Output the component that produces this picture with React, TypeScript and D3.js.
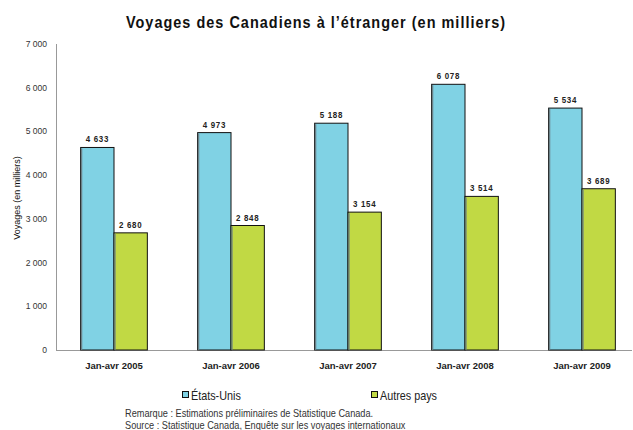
import React from "react";
import * as d3 from "d3";

const categories = ["Jan-avr 2005", "Jan-avr 2006", "Jan-avr 2007", "Jan-avr 2008", "Jan-avr 2009"];
const seriesNames = ["États-Unis", "Autres pays"];
const usValues = [4633, 4973, 5188, 6078, 5534];
const otherValues = [2680, 2848, 3154, 3514, 3689];
const yTicks = [0, 1000, 2000, 3000, 4000, 5000, 6000, 7000];
const colors = ["#80d2e4", "#c1d944"];
const notes = [
  "Remarque : Estimations préliminaires de Statistique Canada.",
  "Source : Statistique Canada, Enquête sur les voyages internationaux",
];

const W = 633;
const H = 430;
const FONT = "'Liberation Sans', Arial, sans-serif";

const fmt = (v: number) => d3.format(",")(v).replace(/,/g, " ");

export default function App() {
  const x = d3.scaleBand<string>().domain(categories).range([55.5, 640.5]).paddingInner(0.43).paddingOuter(0.215);
  const x1 = d3.scaleBand<string>().domain(seriesNames).range([0, x.bandwidth()]);
  const y = d3.scaleLinear().domain([0, 7000]).range([350, 44]);
  const series = [usValues, otherValues];

  return (
    <div style={{ position: "absolute", left: 0, top: 0 }}>
      <svg width={W} height={H} style={{ display: "block", background: "#fff" }}>
        <text transform="translate(316,28) scale(0.85,1)" textAnchor="middle" fontFamily={FONT} fontWeight="bold" fontSize={17} letterSpacing={1.2} fill="#111">
          Voyages des Canadiens à l’étranger (en milliers)
        </text>
        <line x1={56.5} x2={56.5} y1={44} y2={350} stroke="#999" strokeWidth={1} />
        <line x1={56} x2={632} y1={350.5} y2={350.5} stroke="#999" strokeWidth={1} />
        {yTicks.map((t) => (
          <text key={t} transform={`translate(47,${y(t) + 3}) scale(0.9,1)`} textAnchor="end" fontFamily={FONT} fontSize={9.5} fill="#333">
            {fmt(t)}
          </text>
        ))}
        <text transform="translate(20,198) rotate(-90)" textAnchor="middle" fontFamily={FONT} fontSize={9} fill="#111">
          Voyages (en milliers)
        </text>
        {categories.map((c, i) => (
          <g key={c}>
            {series.map((vals, s) => {
              const bx = (x(c) as number) + (x1(seriesNames[s]) as number);
              const bw = x1.bandwidth();
              return (
                <g key={s}>
                  <rect x={bx} y={y(vals[i])} width={bw} height={350 - y(vals[i])} fill={colors[s]} stroke="#111" strokeWidth={1} />
                  <line x1={bx + 1} x2={bx + 1} y1={y(vals[i]) + 1} y2={350} stroke="#6a7f86" strokeWidth={1.2} />
                  <text transform={`translate(${bx + bw / 2},${y(vals[i]) - 5}) scale(0.88,1)`} textAnchor="middle" fontFamily={FONT} fontWeight="bold" fontSize={9} letterSpacing={0.8} fill="#222">
                    {fmt(vals[i])}
                  </text>
                </g>
              );
            })}
            <text x={(x(c) as number) + x.bandwidth() / 2} y={369} textAnchor="middle" fontFamily={FONT} fontWeight="bold" fontSize={9.5} fill="#222">
              {c}
            </text>
          </g>
        ))}
        {seriesNames.map((n, s) => {
          const lx = s === 0 ? 182 : 371;
          return (
            <g key={n}>
              <rect x={lx + 0.5} y={391.5} width={6} height={6} fill={colors[s]} stroke="#111" strokeWidth={1} />
              <text transform={`translate(${lx + 9},${400}) scale(0.9,1)`} fontFamily={FONT} fontSize={12} fill="#222">{n}</text>
            </g>
          );
        })}
        {notes.map((t, i) => (
          <text key={i} transform={`translate(125,${417 + i * 12}) scale(0.92,1)`} fontFamily={FONT} fontSize={10} fill="#333">{t}</text>
        ))}
      </svg>
    </div>
  );
}
